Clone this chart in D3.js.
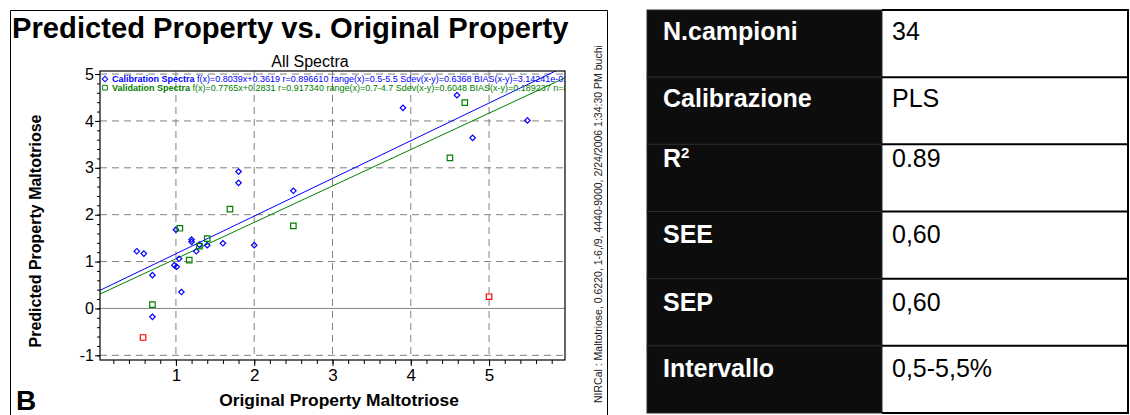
<!DOCTYPE html>
<html>
<head>
<meta charset="utf-8">
<title>Predicted vs Original - Maltotriose</title>
<style>
  body { margin: 0; background: #fff; }
  svg { display: block; font-family: "Liberation Sans", Arial, sans-serif; }
</style>
</head>
<body>
<script src="https://cdn.jsdelivr.net/npm/d3@7"></script>
<script>
// data
var calX = [0.50, 0.59, 0.70, 1.00, 0.98, 1.01, 1.04, 1.20, 1.20, 1.26, 1.30, 1.40, 1.60, 1.80, 1.80, 2.00, 2.50, 1.07, 0.70, 3.90, 4.59, 5.49, 4.79];
var calY = [1.22, 1.17, 0.71, 1.68, 0.92, 0.89, 1.06, 1.47, 1.42, 1.22, 1.36, 1.35, 1.39, 2.92, 2.68, 1.35, 2.51, 0.35, -0.18, 4.28, 4.55, 4.01, 3.64];
var valX = [0.70, 1.05, 1.17, 1.30, 1.40, 1.69, 2.50, 4.50, 4.69];
var valY = [0.08, 1.71, 1.03, 1.33, 1.49, 2.12, 1.76, 3.21, 4.39];
var outX = [0.58, 5.00];
var outY = [-0.62, 0.25];

// regression lines: slope, intercept
var calFit = [0.8039, 0.3619];
var valFit = [0.7765, 0.2831];

var xTicks = [1, 2, 3, 4, 5];
var yTicks = [-1, 0, 1, 2, 3, 4, 5];

var legendCal = ["Calibration Spectra", " f(x)=0.8039x+0.3619  r=0.896610 range(x)=0.5-5.5 Sdev(x-y)=0.6368 BIAS(x-y)=3.14241e-015 n=24"];
var legendVal = ["Validation Spectra", " f(x)=0.7765x+0.2831  r=0.917340 range(x)=0.7-4.7 Sdev(x-y)=0.6048 BIAS(x-y)=0.189237 n=8"];

var tableLabels = ["N.campioni", "Calibrazione", "R", "SEE", "SEP", "Intervallo"];
var tableValues = ["34", "PLS", "0.89", "0,60", "0,60", "0,5-5,5%"];

var stamp = "NIRCal :  Maltotriose, 0.6220, 1-6,/9, 4440-9000, 2/24/2006 1:34:30 PM buchi";

// layout
var W = 1130, H = 415;
var plot = {left: 100, top: 71, right: 565, bottom: 360};
var blue = "#0000ff", green = "#008000", red = "#ff0000";

var svg = d3.select("body").append("svg").attr("width", W).attr("height", H);

var x = d3.scaleLinear().domain([0.03, 5.97]).range([plot.left, plot.right]);
var y = d3.scaleLinear().domain([-1.1, 5.065]).range([plot.bottom, plot.top]);

// outer frame of the chart picture
svg.append("path")
  .attr("d", "M10.5,420V10.5H607.5V420")
  .attr("fill", "none").attr("stroke", "#000").attr("stroke-width", 1);

svg.append("text").attr("x", 12).attr("y", 37.5)
  .attr("font-size", 29.2).attr("font-weight", "bold")
  .text("Predicted Property vs. Original Property");

svg.append("text").attr("x", 310).attr("y", 67)
  .attr("text-anchor", "middle").attr("font-size", 16)
  .text("All Spectra");

svg.append("defs").append("clipPath").attr("id", "clip")
  .append("rect")
  .attr("x", plot.left).attr("y", plot.top)
  .attr("width", plot.right - plot.left).attr("height", plot.bottom - plot.top);

// grid
var grid = svg.append("g").attr("clip-path", "url(#clip)");
grid.selectAll("line.gx").data(xTicks).enter().append("line")
  .attr("x1", d => x(d)).attr("x2", d => x(d))
  .attr("y1", plot.top).attr("y2", plot.bottom)
  .attr("stroke", "#808080").attr("stroke-dasharray", "7,5");
grid.selectAll("line.gy").data(yTicks).enter().append("line")
  .attr("x1", plot.left).attr("x2", plot.right)
  .attr("y1", d => y(d)).attr("y2", d => y(d))
  .attr("stroke", "#808080")
  .attr("stroke-dasharray", d => d === 0 ? null : "7,5");

// axes
var minorX = d3.range(0.2, 5.9, 0.2);
var minorY = d3.range(-1, 5.01, 0.2);

svg.append("g").attr("transform", "translate(0," + plot.bottom + ")")
  .call(d3.axisBottom(x).tickValues(minorX).tickSize(4).tickFormat(""))
  .call(g => g.select(".domain").remove());
svg.append("g").attr("transform", "translate(0," + plot.bottom + ")")
  .call(d3.axisBottom(x).tickValues(xTicks).tickSize(6).tickPadding(3).tickFormat(d => String(d)))
  .call(g => g.select(".domain").remove())
  .call(g => g.selectAll("text").attr("font-size", 17).attr("font-family", null));

svg.append("g").attr("transform", "translate(" + plot.left + ",0)")
  .call(d3.axisLeft(y).tickValues(minorY).tickSize(3).tickFormat(""))
  .call(g => g.select(".domain").remove());
svg.append("g").attr("transform", "translate(" + plot.left + ",0)")
  .call(d3.axisLeft(y).tickValues(yTicks).tickSize(5).tickPadding(1).tickFormat(d => String(d)))
  .call(g => g.select(".domain").remove())
  .call(g => g.selectAll("text").attr("font-size", 16).attr("font-family", null));

svg.append("text").attr("x", 339).attr("y", 406)
  .attr("text-anchor", "middle").attr("font-size", 17.4).attr("font-weight", "bold")
  .text("Original Property Maltotriose");

svg.append("text")
  .attr("transform", "translate(41,231) rotate(-90)")
  .attr("text-anchor", "middle").attr("font-size", 16).attr("font-weight", "bold")
  .text("Predicted Property Maltotriose");

svg.append("text").attr("x", 16).attr("y", 410)
  .attr("font-size", 28).attr("font-weight", "bold").text("B");

svg.append("text")
  .attr("transform", "translate(602,403) rotate(-90)")
  .attr("font-size", 10.5).attr("fill", "#222")
  .text(stamp);

// regression lines and points
var marks = svg.append("g").attr("clip-path", "url(#clip)");
[[calFit, blue], [valFit, green]].forEach(function (f) {
  var dom = x.domain();
  marks.append("line")
    .attr("x1", x(dom[0])).attr("y1", y(f[0][0] * dom[0] + f[0][1]))
    .attr("x2", x(dom[1])).attr("y2", y(f[0][0] * dom[1] + f[0][1]))
    .attr("stroke", f[1]).attr("stroke-width", 1);
});

var diamond = d3.symbol().type(d3.symbolSquare).size(15);
var square = d3.symbol().type(d3.symbolSquare).size(30);

marks.selectAll("path.cal").data(calX).enter().append("path")
  .attr("d", diamond)
  .attr("transform", (d, i) => "translate(" + x(d) + "," + y(calY[i]) + ") rotate(45)")
  .attr("fill", "none").attr("stroke", blue).attr("stroke-width", 1.2);
marks.selectAll("path.val").data(valX).enter().append("path")
  .attr("d", square)
  .attr("transform", (d, i) => "translate(" + x(d) + "," + y(valY[i]) + ")")
  .attr("fill", "none").attr("stroke", green).attr("stroke-width", 1.2);
marks.selectAll("path.out").data(outX).enter().append("path")
  .attr("d", square)
  .attr("transform", (d, i) => "translate(" + x(d) + "," + y(outY[i]) + ")")
  .attr("fill", "none").attr("stroke", red).attr("stroke-width", 1.2);

// legend inside the plot
var leg = svg.append("g").attr("clip-path", "url(#clip)");
[[legendCal, blue, diamond, 45], [legendVal, green, d3.symbol().type(d3.symbolSquare).size(22), 0]].forEach(function (l, i) {
  var by = 82 + i * 8.7;
  leg.append("path").attr("d", l[2])
    .attr("transform", "translate(105," + (by - 3) + ") rotate(" + l[3] + ")")
    .attr("fill", "none").attr("stroke", l[1]).attr("stroke-width", 1);
  var t = leg.append("text").attr("x", 112).attr("y", by)
    .attr("font-size", 9).attr("fill", l[1]);
  t.append("tspan").attr("font-weight", "bold").text(l[0][0]);
  t.append("tspan").text(l[0][1]);
});

// frame on top
svg.append("rect")
  .attr("x", plot.left).attr("y", plot.top)
  .attr("width", plot.right - plot.left).attr("height", plot.bottom - plot.top)
  .attr("fill", "none").attr("stroke", "#000").attr("stroke-width", 1.2);

// table
var tx0 = 647, tx1 = 882, tx2 = 1128, ty0 = 10, ty1 = 413;
var rowH = (ty1 - ty0) / tableLabels.length;
var textDy = [29.5, 29.5, 23, 31.5, 32.5, 31.5];
var tbl = svg.append("g");
tbl.selectAll("rect.l").data(tableLabels).enter().append("rect")
  .attr("x", tx0).attr("y", (d, i) => ty0 + i * rowH)
  .attr("width", tx1 - tx0).attr("height", rowH)
  .attr("fill", "#0d0d0d").attr("stroke", "#2a2a2a").attr("stroke-width", 1);
tbl.selectAll("line.r").data(tableValues).enter().append("line")
  .attr("x1", tx1).attr("x2", tx2)
  .attr("y1", (d, i) => ty0 + (i + 1) * rowH).attr("y2", (d, i) => ty0 + (i + 1) * rowH)
  .attr("stroke", "#000").attr("stroke-width", 2);
tbl.append("path")
  .attr("d", "M" + tx1 + "," + ty0 + "H" + tx2 + "V" + ty1 + "H" + tx1)
  .attr("fill", "none").attr("stroke", "#000").attr("stroke-width", 2);

tbl.selectAll("text.l").data(tableLabels).enter().append("text")
  .attr("x", tx0 + 16).attr("y", (d, i) => ty0 + i * rowH + textDy[i])
  .attr("font-size", 25).attr("font-weight", "bold").attr("fill", "#fff")
  .each(function (d) {
    var t = d3.select(this);
    t.append("tspan").text(d);
    if (d === "R") t.append("tspan").attr("font-size", 15).attr("dy", -9).text("2");
  });
tbl.selectAll("text.r").data(tableValues).enter().append("text")
  .attr("x", tx1 + 10).attr("y", (d, i) => ty0 + i * rowH + textDy[i])
  .attr("font-size", 25).attr("fill", "#000")
  .text(d => d);
</script>
</body>
</html>
